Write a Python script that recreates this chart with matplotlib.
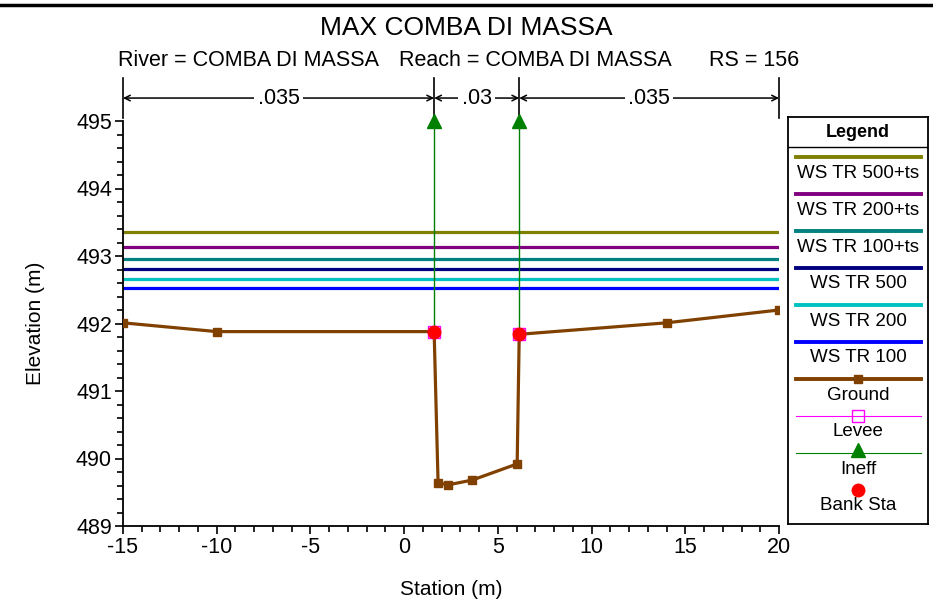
import numpy as np
import matplotlib
matplotlib.use("Agg")
import matplotlib.pyplot as plt
from matplotlib.lines import Line2D

plt.rcParams['font.family'] = ['Liberation Sans', 'DejaVu Sans']
plt.rcParams['axes.unicode_minus'] = False

# ground section
station = [-15, -10, 1.6, 1.81, 2.35, 3.63, 6.03, 6.14, 14, 20]
ground = [492.01, 491.88, 491.88, 489.64, 489.61, 489.68, 489.92, 491.84, 492.01, 492.2]

# water surfaces
ws_names = ['WS TR 500+ts', 'WS TR 200+ts', 'WS TR 100+ts', 'WS TR 500', 'WS TR 200', 'WS TR 100']
ws_elev = [493.36, 493.13, 492.96, 492.81, 492.66, 492.53]
ws_colors = ['#808000', '#800080', '#008080', '#000080', '#00C0C0', '#0000FF']

# banks / levees / ineffective
bank_sta = [1.6, 6.14]
bank_elev = [491.88, 491.84]
ineff_elev = 495.0

# manning n
n_breaks = [-15, 1.6, 6.14, 20]
n_vals = ['.035', '.03', '.035']

fig = plt.figure(figsize=(9.33, 6.06), dpi=100)
ax = fig.add_axes([123/933, 80/606, 656/933, 405/606])

for name, e, c in zip(ws_names, ws_elev, ws_colors):
    ax.plot([station[0], station[-1]], [e, e], color=c, lw=2.3, zorder=2)

for s, g in zip(bank_sta, bank_elev):
    ax.plot([s, s], [g, ineff_elev], color='#008000', lw=1, zorder=3)
ax.plot(bank_sta, [ineff_elev]*2, ls='none', marker='^', ms=10, color='#008000', clip_on=False, zorder=5)

ax.plot(station, ground, color='#804000', lw=2.3, marker='s', ms=5.5, zorder=4)
ax.plot(bank_sta, bank_elev, ls='none', marker='s', ms=9, mfc='none', mec='#FF00FF', mew=1, zorder=5)
ax.plot(bank_sta, bank_elev, ls='none', marker='o', ms=9, color='#FF0000', zorder=6)

ax.set_xlim(-15, 20)
ax.set_ylim(489, 495)
ax.set_xticks(np.arange(-15, 21, 5))
ax.set_xticks(np.arange(-15, 21, 1), minor=True)
ax.set_yticks(np.arange(489, 496, 1))
ax.set_yticks(np.arange(489, 495.01, 0.2), minor=True)
ax.spines['top'].set_visible(False)
ax.spines['right'].set_visible(False)
for sp in ['left', 'bottom']:
    ax.spines[sp].set_linewidth(1.3)
ax.tick_params(which='major', length=6, width=1.2, labelsize=15.5, direction='out', pad=2)
ax.tick_params(which='minor', length=4, width=1.2, direction='out')
ax.set_xlabel('Station (m)', fontsize=15, labelpad=16)
ax.set_ylabel('Elevation (m)', fontsize=15, labelpad=22)

# manning n annotation
n_y = 495.34
for b in n_breaks:
    ax.plot([b, b], [495.04, 495.63], color='black', lw=1.2, clip_on=False)
for i, v in enumerate(n_vals):
    ax.annotate('', xy=(n_breaks[i], n_y), xytext=(n_breaks[i+1], n_y),
                arrowprops=dict(arrowstyle='<->', lw=1.1, color='black', shrinkA=0, shrinkB=0),
                annotation_clip=False)
    ax.text((n_breaks[i] + n_breaks[i+1]) / 2, n_y, v, ha='center', va='center', fontsize=15.5,
            bbox=dict(boxstyle='square,pad=0.15', fc='white', ec='none'), clip_on=False)

fig.text(0.5, 1 - 28/606, 'MAX COMBA DI MASSA', ha='center', va='center', fontsize=19)
sub_y = 1 - 61/606
fig.text(118/933, sub_y, 'River = COMBA DI MASSA', ha='left', va='center', fontsize=15.5)
fig.text(399/933, sub_y, 'Reach = COMBA DI MASSA', ha='left', va='center', fontsize=15.5)
fig.text(709/933, sub_y, 'RS = 156', ha='left', va='center', fontsize=15.5)
fig.add_artist(Line2D([0, 1], [1 - 5/606, 1 - 5/606], color='black', lw=2.5))

# legend box
lg = fig.add_axes([788/933, 82/606, 140/933, 407/606])
lg.set_xlim(0, 140)
lg.set_ylim(407, 0)
lg.set_xticks([])
lg.set_yticks([])
for sp in lg.spines.values():
    sp.set_linewidth(1.3)
lg.text(70, 15, 'Legend', ha='center', va='center', fontsize=13, fontweight='bold')
lg.plot([0, 140], [30, 30], color='black', lw=1)

items = [(n, dict(color=c, lw=2.8)) for n, c in zip(ws_names, ws_colors)]
items += [('Ground', dict(color='#804000', lw=2.8, marker='s', ms=6)),
          ('Levee', dict(color='#FF00FF', lw=0.8, marker='s', ms=9, mfc='none')),
          ('Ineff', dict(color='#008000', lw=0.8, marker='^', ms=10)),
          ('Bank Sta', dict(color='#FF0000', lw=0, marker='o', ms=9))]
y0 = 40
for i, (name, kw) in enumerate(items):
    y = y0 + i * 37
    lg.plot([8, 133], [y, y], markevery=[], **kw)
    if 'marker' in kw:
        my = y - 3 if kw['marker'] == '^' else y
        lg.plot([70], [my], ls='none', **{k: v for k, v in kw.items() if k != 'lw'})
    lg.text(70, y + 16, name, ha='center', va='center', fontsize=13.5)

fig.savefig('out.png', dpi=100)
